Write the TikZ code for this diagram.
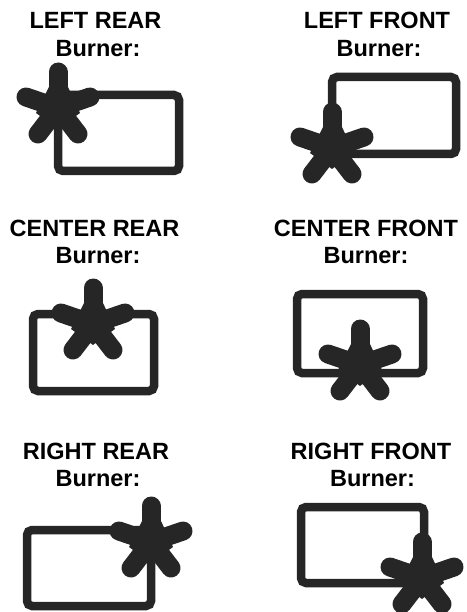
\documentclass[tikz,border=0pt]{standalone}
\usepackage{fontspec}
\setmainfont{Liberation Sans}
\definecolor{burnerdark}{HTML}{262626}
\tikzset{
  titlelabel/.style={anchor=base, inner sep=0pt, font=\fontsize{23.5}{25}\selectfont\bfseries},
  panelbox/.style={draw=burnerdark, line width=8.5pt, rounded corners=5pt},
  burnerarm/.style={draw=burnerdark, line width=19pt, line cap=round},
  burnerhub/.style={fill=burnerdark}
}
% five arms and a hub, drawn from the centre of the burner
\newcommand{\burnerstar}[2]{
  \fill[burnerhub] (#1,#2) ++(-9,-21) -- ++(19,0) -- ++(12,26) -- ++(-22,16) -- ++(-22,-16) -- cycle;
  \draw[burnerarm] (#1,#2) -- ++(0,-36);
  \draw[burnerarm] (#1,#2) -- ++(-32,-11);
  \draw[burnerarm] (#1,#2) -- ++(32,-11);
  \draw[burnerarm] (#1,#2) -- ++(-20,26);
  \draw[burnerarm] (#1,#2) -- ++(20,26);
}
\begin{document}
\begin{tikzpicture}[x=1pt, y=-1pt]
\useasboundingbox (0,0) rectangle (466,612);
% Left rear
\node[titlelabel] (leftrear) at (95.5,29) {LEFT REAR};
\node[titlelabel] (leftrearb) at (98,57) {Burner:};
\draw[panelbox] (58,95) rectangle (179,171);
\burnerstar{58}{108}
% Left front
\node[titlelabel] (leftfront) at (377,29) {LEFT FRONT};
\node[titlelabel] (leftfrontb) at (379,57) {Burner:};
\draw[panelbox] (332,77) rectangle (456,154);
\burnerstar{332}{148}
% Center rear
\node[titlelabel] (centerrear) at (94.5,236) {CENTER REAR};
\node[titlelabel] (centerrearb) at (98,263) {Burner:};
\draw[panelbox] (33,314) rectangle (154,391);
\burnerstar{93}{324}
% Center front
\node[titlelabel] (centerfront) at (366,236) {CENTER FRONT};
\node[titlelabel] (centerfrontb) at (366,263) {Burner:};
\draw[panelbox] (297,294) rectangle (423,373);
\burnerstar{360}{365}
% Right rear
\node[titlelabel] (rightrear) at (96,459) {RIGHT REAR};
\node[titlelabel] (rightrearb) at (98,486) {Burner:};
\draw[panelbox] (27,530) rectangle (151,606);
\burnerstar{151}{542}
% Right front
\node[titlelabel] (rightfront) at (371,459) {RIGHT FRONT};
\node[titlelabel] (rightfrontb) at (372.5,486) {Burner:};
\draw[panelbox] (301,507) rectangle (424,583);
\burnerstar{422}{578}
\end{tikzpicture}
\end{document}
